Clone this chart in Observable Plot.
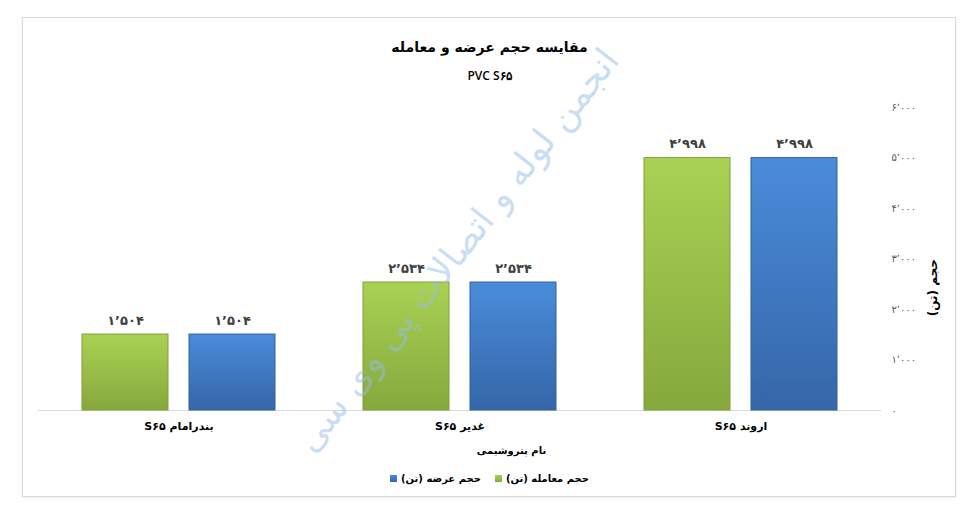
<!DOCTYPE html>
<html><head><meta charset="utf-8">
<script src="https://cdn.jsdelivr.net/npm/d3@7"></script>
<script src="https://cdn.jsdelivr.net/npm/@observablehq/plot@0.6"></script>
<style>
body{margin:0;background:#fff;}
#wrap{position:relative;width:979px;height:521px;overflow:hidden;font-family:"DejaVu Sans",sans-serif;}
#frame{position:absolute;left:22px;top:17px;width:934px;height:480px;border:1px solid #d9d9d9;box-sizing:border-box;box-shadow:0 1px 2px rgba(0,0,0,0.08);}
#head{position:relative;height:90px;}
#title{position:absolute;top:37px;left:0;width:979px;text-align:center;font-weight:bold;font-size:14px;line-height:20px;color:#000;direction:rtl;}
#subtitle{position:absolute;top:68px;left:0;width:979px;text-align:center;font-weight:600;font-size:12px;line-height:16px;color:#000;font-family:"Open Sans",sans-serif;}
#chart{position:relative;height:350px;}
#xtitle{height:22px;line-height:22px;text-align:center;font-weight:bold;font-size:10px;color:#000;direction:rtl;padding-left:44px;}
#legend{height:32px;display:flex;flex-direction:row;justify-content:center;align-items:center;direction:rtl;gap:14px;font-weight:bold;font-size:10px;color:#000;}
.item{display:flex;align-items:center;gap:4px;}
.sw{width:7px;height:7px;display:inline-block;}
#wm{position:absolute;left:457px;top:250px;transform:translate(-50%,-50%) rotate(-52deg);white-space:nowrap;direction:rtl;font-size:36px;color:rgba(150,188,235,0.5);pointer-events:none;font-family:"DejaVu Sans",sans-serif;}
</style>
</head><body>
<div id="wrap">
  <div id="frame"></div>
  <div id="head"><div id="title"></div><div id="subtitle"></div></div>
  <div id="chart"></div>
  <div id="xtitle"></div>
  <div id="legend"></div>
  <div id="wm"></div>
</div>
<script>
const chartTitle = "مقایسه حجم عرضه و معامله";
const chartSubtitle = "PVC S۶۵";
const xAxisTitle = "نام پتروشیمی";
const yAxisTitle = "حجم (تن)";
const watermark = "انجمن لوله و اتصالات پی وی سی";

const categories = ["بندرامام S۶۵", "غدیر S۶۵", "اروند S۶۵"];
const seriesNames = ["حجم معامله (تن)", "حجم عرضه (تن)"];
const tradeVolume = [1504, 2534, 4998];
const offerVolume = [1504, 2534, 4998];
const yTicks = [0, 1000, 2000, 3000, 4000, 5000, 6000];
const seriesFills = ["url(#gradGreen)", "url(#gradBlue)"];

const rows = categories.flatMap((c, i) => [
  {category: c, series: seriesNames[0], value: tradeVolume[i]},
  {category: c, series: seriesNames[1], value: offerVolume[i]}
]);

const faDigits = "۰۱۲۳۴۵۶۷۸۹";
const fa = n => d3.format(",")(n).replace(/,/g, "\u066C").replace(/\d/g, d => faDigits[d]);
const rtl = s => "\u202B" + s + "\u202C";

document.getElementById("title").textContent = chartTitle;
document.getElementById("subtitle").textContent = chartSubtitle;
document.getElementById("xtitle").textContent = xAxisTitle;
document.getElementById("wm").textContent = watermark;

const svg = Plot.plot({
  width: 979,
  height: 350,
  marginTop: 17,
  marginBottom: 30,
  marginLeft: 37,
  marginRight: 97,
  style: {background: "transparent", fontFamily: "'DejaVu Sans', sans-serif", overflow: "visible"},
  fx: {domain: categories, padding: 0, label: null},
  x: {domain: seriesNames, paddingInner: 0.194, paddingOuter: 0.401, axis: null},
  y: {domain: [0, 6000], axis: null},
  color: {domain: seriesNames, range: seriesFills},
  marks: [
    Plot.ruleY([0], {stroke: "#d9d9d9", strokeWidth: 1}),
    Plot.barY(rows, {fx: "category", x: "series", y: "value", fill: "series"}),
    Plot.barY(rows.filter(d => d.series === seriesNames[0]), {fx: "category", x: "series", y: "value", fill: "none", stroke: "#7f9f39", strokeWidth: 1}),
    Plot.barY(rows.filter(d => d.series === seriesNames[1]), {fx: "category", x: "series", y: "value", fill: "none", stroke: "#31609f", strokeWidth: 1}),
    Plot.text(rows, {fx: "category", x: "series", y: "value", text: d => fa(d.value), dy: -14, fontWeight: "bold", fontSize: 13, fill: "#404040"}),
    Plot.axisY({anchor: "right", ticks: yTicks, tickFormat: fa, tickSize: 0, tickPadding: 10, textAnchor: "start", fontSize: 10, color: "#595959", label: null}),
    Plot.axisFx({anchor: "bottom", tickSize: 0, tickPadding: 12, tickFormat: d => rtl(d), fontWeight: "bold", fontSize: 11, color: "#000", label: null}),
    Plot.text([yAxisTitle], {text: d => rtl(d), frameAnchor: "right", dx: 52, rotate: -90, fontWeight: "bold", fontSize: 12, fill: "#000", facetAnchor: "right"})
  ]
});

const defs = d3.select(svg).insert("defs", ":first-child");
function grad(id, stops) {
  const g = defs.append("linearGradient").attr("id", id).attr("x1", 0).attr("y1", 0).attr("x2", 0).attr("y2", 1);
  stops.forEach(([o, c]) => g.append("stop").attr("offset", o).attr("stop-color", c));
}
grad("gradGreen", [[0, "#a9d254"], [1, "#86a83c"]]);
grad("gradBlue", [[0, "#4a8cda"], [1, "#3566a8"]]);

document.getElementById("chart").appendChild(svg);

const legendColors = ["linear-gradient(#a9d254,#86a83c)", "linear-gradient(#4a8cda,#3566a8)"];
const legend = document.getElementById("legend");
seriesNames.forEach((s, i) => {
  const item = document.createElement("div");
  item.className = "item";
  const t = document.createElement("span");
  t.textContent = s;
  const sw = document.createElement("span");
  sw.className = "sw";
  sw.style.background = legendColors[i];
  item.appendChild(t);
  item.appendChild(sw);
  legend.appendChild(item);
});
</script>
</body></html>
